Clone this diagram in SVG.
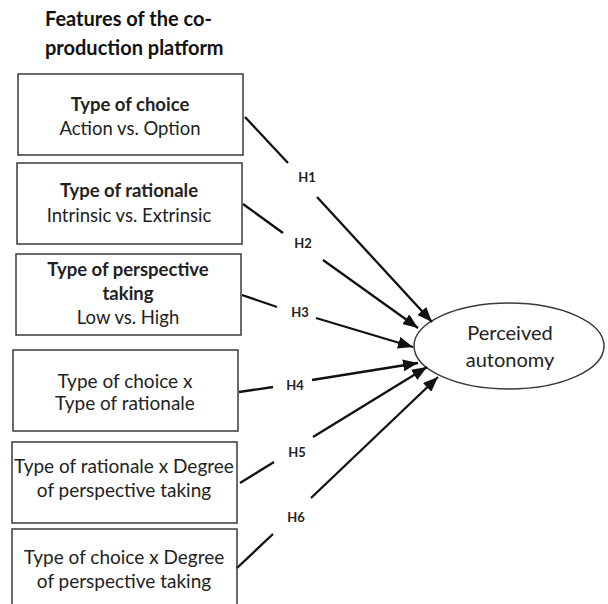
<svg xmlns="http://www.w3.org/2000/svg" width="608" height="604" viewBox="0 0 608 604">
  <defs>
    <marker id="arrow" viewBox="0 0 15 12" refX="15" refY="6" markerWidth="15" markerHeight="12" markerUnits="userSpaceOnUse" orient="auto">
      <path d="M0,0 L15,6 L0,12 Z" fill="#111"/>
    </marker>
    <style>
      .box { fill: #fff; stroke: #3a3a3a; stroke-width: 1.5; }
      .t { font-family: Lato, "Liberation Sans", sans-serif; fill: #222; text-anchor: middle; }
      .b { font-weight: bold; }
      .s { font-size: 18.5px; }
      .l { font-size: 19px; }
      .e { font-size: 20px; }
      .title { font-family: Lato, "Liberation Sans", sans-serif; font-weight: bold; font-size: 20px; fill: #111; }
      .h { font-family: Lato, "Liberation Sans", sans-serif; font-weight: bold; font-size: 13px; fill: #222; text-anchor: middle; }
      .c { stroke: #111; stroke-width: 2.3; fill: none; }
      .a { marker-end: url(#arrow); }
    </style>
  </defs>
  <rect width="608" height="604" fill="#fff"/>

  <text class="title" x="45" y="26">Features of the co-</text>
  <text class="title" x="45" y="55">production platform</text>

  <g id="choice">
    <rect class="box" x="18" y="74" width="225" height="81"/>
    <text class="t b s" x="130" y="111">Type of choice</text>
    <text class="t s" x="130" y="135">Action vs. Option</text>
  </g>
  <g id="rationale">
    <rect class="box" x="17" y="163" width="225" height="81"/>
    <text class="t b s" x="129" y="197">Type of rationale</text>
    <text class="t s" x="129" y="222">Intrinsic vs. Extrinsic</text>
  </g>
  <g id="perspective">
    <rect class="box" x="16" y="254" width="225" height="81"/>
    <text class="t b s" x="128" y="276">Type of perspective</text>
    <text class="t b s" x="128" y="300">taking</text>
    <text class="t s" x="128" y="324">Low vs. High</text>
  </g>
  <g id="choice-rationale">
    <rect class="box" x="13" y="350" width="225" height="81"/>
    <text class="t l" x="125" y="388">Type of choice x</text>
    <text class="t l" x="125" y="410">Type of rationale</text>
  </g>
  <g id="rationale-perspective">
    <rect class="box" x="12" y="442" width="225" height="81"/>
    <text class="t l" x="124" y="473">Type of rationale x Degree</text>
    <text class="t l" x="124" y="497">of perspective taking</text>
  </g>
  <g id="choice-perspective">
    <rect class="box" x="12" y="529" width="225" height="80"/>
    <text class="t l" x="124" y="564">Type of choice x Degree</text>
    <text class="t l" x="124" y="588">of perspective taking</text>
  </g>

  <g id="autonomy">
    <ellipse class="box" cx="509" cy="346" rx="95" ry="43"/>
    <text class="t e" x="510" y="340">Perceived</text>
    <text class="t e" x="510" y="367">autonomy</text>
  </g>

  <g id="connectors">
    <line class="c" x1="245" y1="117" x2="288" y2="163"/>
    <line class="c a" x1="317" y1="197" x2="432" y2="322"/>
    <line class="c" x1="243" y1="204" x2="283" y2="233"/>
    <line class="c a" x1="323" y1="260" x2="418" y2="328"/>
    <line class="c" x1="242" y1="295" x2="277" y2="307"/>
    <line class="c a" x1="316" y1="318" x2="413" y2="347"/>
    <line class="c" x1="239" y1="392" x2="273" y2="387"/>
    <line class="c a" x1="312" y1="380" x2="418" y2="363"/>
    <line class="c" x1="240" y1="483" x2="274" y2="462"/>
    <line class="c a" x1="313" y1="437" x2="427" y2="367"/>
    <line class="c" x1="237" y1="568" x2="273" y2="534"/>
    <line class="c a" x1="311" y1="498" x2="438" y2="377"/>
    <text class="h" x="307" y="182">H1</text>
    <text class="h" x="303" y="248">H2</text>
    <text class="h" x="300" y="317">H3</text>
    <text class="h" x="295" y="390">H4</text>
    <text class="h" x="297" y="457">H5</text>
    <text class="h" x="296" y="522">H6</text>
  </g>
</svg>
